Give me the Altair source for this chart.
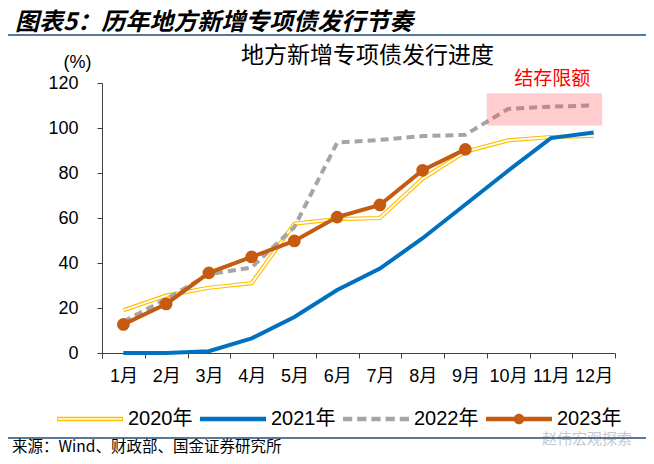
import altair as alt
import pandas as pd

months = list(range(1, 13))
s2020 = [19, 25.5, 29, 31, 57.5, 59.5, 60, 77.5, 89.5, 94.5, 96, 96.5]
s2021 = [0, 0, 0.8, 6.5, 16, 28, 37.5, 51, 66, 81, 95.5, 98]
s2022 = [14, 24, 35, 38, 56, 93.5, 94.7, 96.4, 97, 108.5, 109.5, 110]
s2023 = [12.7, 21.8, 35.6, 42.7, 49.8, 60.4, 65.8, 81.2, 90.5]
series_names = ["2020年", "2021年", "2022年", "2023年"]
series_colors = ["#FFC000", "#0070C0", "#A5A5A5", "#C55A11"]
band_x = [9.5, 12.2]
band_y = [101.1, 115.5]
note_text = "结存限额"
note_pos = [11.03, 121.7]

# legend symbol paths (unit square -1..1)
legend_paths = [
    "M-1,-0.065H1V0.065H-1Z M-0.975,-0.025V0.025H0.975V-0.025Z",
    "M-1,-0.07H1V0.07H-1Z",
    "M-1,-0.07H-0.72V0.07H-1Z M-0.57,-0.07H-0.29V0.07H-0.57Z M-0.14,-0.07H0.14V0.07H-0.14Z "
    "M0.29,-0.07H0.57V0.07H0.29Z M0.72,-0.07H1V0.07H0.72Z",
    "M-1,-0.07H1V0.07H-1Z M0.16,0A0.16,0.16 0 1,1 -0.16,0A0.16,0.16 0 1,1 0.16,0Z",
]

FONT = "Liberation Sans, Noto Sans CJK SC"
CJK = "Noto Sans CJK SC"

df20 = pd.DataFrame({"m": months, "v": s2020})
df21 = pd.DataFrame({"m": months, "v": s2021})
df22 = pd.DataFrame({"m": months, "v": s2022})
df23 = pd.DataFrame({"m": months[:len(s2023)], "v": s2023})
df_leg = pd.DataFrame({"m": [1, 1, 1, 1], "v": [0, 0, 0, 0], "s": series_names})
df_band = pd.DataFrame({"x": [band_x[0]], "x2": [band_x[1]], "y": [band_y[0]], "y2": [band_y[1]]})
df_note = pd.DataFrame({"x": [note_pos[0]], "y": [note_pos[1]], "t": [note_text]})

xs = alt.Scale(domain=[0.5, 12.5], nice=False, zero=False)
ys = alt.Scale(domain=[0, 120], nice=False)

x_axis = alt.Axis(
    values=[0.5 + 0.5 * i for i in range(25)],
    labelExpr="datum.value % 1 == 0 ? datum.value + '月' : ''",
    tickOpacity={"condition": {"test": "datum.value % 1 == 0", "value": 0}, "value": 1},
    labelOverlap=False, labelFlush=False, labelBound=False,
    grid=False, title=None, tickSize=5, tickColor="#404040", domainColor="#404040",
    labelFont=FONT, labelFontSize=18, labelColor="#000000",
    labelPadding=18, labelBaseline="middle",
)
y_axis = alt.Axis(
    values=[0, 20, 40, 60, 80, 100, 120], grid=False, tickSize=5,
    tickColor="#404040", domainColor="#404040",
    labelFont=FONT, labelFontSize=18, labelColor="#000000", labelPadding=19,
    title="(%)", titleAngle=0, titleX=-25, titleY=-21, titleAlign="center",
    titleBaseline="middle", titleFont=FONT, titleFontSize=18, titleFontWeight="normal",
    titleColor="#000000",
)

X = alt.X("m:Q", scale=xs, axis=x_axis)
Y = alt.Y("v:Q", scale=ys, axis=y_axis)

l20a = alt.Chart(df20).mark_line(color=series_colors[0], strokeWidth=4.2).encode(x=X, y=Y)
l20b = alt.Chart(df20).mark_line(color="#FFFFFF", strokeWidth=1.8).encode(x=X, y=Y)
l22 = alt.Chart(df22).mark_line(color=series_colors[2], strokeWidth=4, strokeDash=[8, 5]).encode(x=X, y=Y)
rect = alt.Chart(df_band).mark_rect(color="#FF4D4D", opacity=0.28).encode(
    x=alt.X("x:Q", scale=xs, axis=x_axis), x2="x2", y=alt.Y("y:Q", scale=ys, axis=y_axis), y2="y2")
l21 = alt.Chart(df21).mark_line(color=series_colors[1], strokeWidth=4).encode(x=X, y=Y)
l23 = alt.Chart(df23).mark_line(color=series_colors[3], strokeWidth=4).encode(x=X, y=Y)
p23 = alt.Chart(df23).mark_circle(color=series_colors[3], size=160, opacity=1).encode(x=X, y=Y)
note = alt.Chart(df_note).mark_text(color="#FF0000", fontSize=19, font=CJK).encode(
    x=alt.X("x:Q", scale=xs, axis=x_axis), y=alt.Y("y:Q", scale=ys, axis=y_axis), text="t:N")

legend = alt.Legend(
    orient="none", legendX=-45, legendY=303, direction="horizontal", columns=4,
    title=None, labelFont=FONT, labelFontSize=20, labelColor="#000000",
    symbolSize=4356, symbolStrokeWidth=0, symbolOpacity=1, labelOffset=5,
    columnPadding=7, padding=0,
)
leg = alt.Chart(df_leg).mark_point(filled=True, opacity=0).encode(
    x=X, y=Y,
    color=alt.Color("s:N", scale=alt.Scale(domain=series_names, range=series_colors), legend=legend),
    shape=alt.Shape("s:N", scale=alt.Scale(domain=series_names, range=legend_paths), legend=legend),
)

def txt(s, x, y, size, font=CJK, color="#000000", align="left", weight="normal", style="normal"):
    return alt.Chart(pd.DataFrame({"t": [s]})).mark_text(
        fontSize=size, font=font, color=color, align=align, baseline="middle",
        fontWeight=weight, fontStyle=style,
    ).encode(x=alt.value(x), y=alt.value(y), text="t:N")

header = txt("图表5：历年地方新增专项债发行节奏", -87, -60, 24, weight="bold", style="italic")
inner_title = txt("地方新增专项债发行进度", 265.5, -27, 23, align="center")
source = txt("来源：Wind、财政部、国金证券研究所", -90, 364, 15.5)
watermark = txt("赵伟宏观探索", 485, 356, 15, color="#C8C8C8", align="center")

line_top = alt.Chart(pd.DataFrame({"a": [0]})).mark_rule(color="#1F4E79", strokeWidth=1.5).encode(
    x=alt.value(-94), x2=alt.value(544), y=alt.value(-48))
line_bot = alt.Chart(pd.DataFrame({"a": [0]})).mark_rule(color="#1F4E79", strokeWidth=1.5).encode(
    x=alt.value(-94), x2=alt.value(544), y=alt.value(355))

chart = alt.layer(
    l20a, l20b, l22, rect, l21, l23, p23, note, leg,
    header, inner_title, source, watermark, line_top, line_bot,
).properties(
    width=513, height=270,
    padding={"left": 94, "top": 75, "right": 31, "bottom": 103},
    autosize=alt.AutoSizeParams(type="none"),
).configure_view(stroke=None)

chart.save("out.html", embed_options={"renderer": "svg", "actions": False})
